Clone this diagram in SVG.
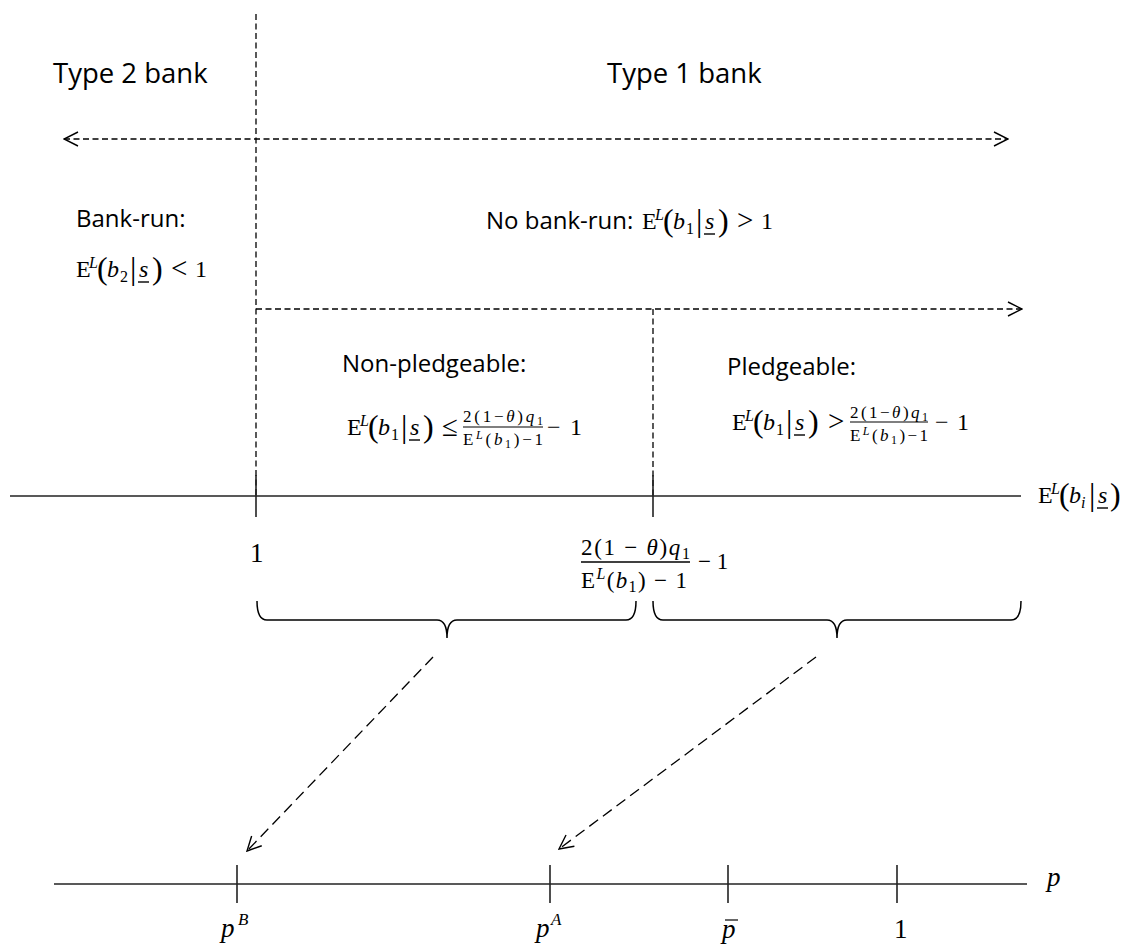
<svg xmlns="http://www.w3.org/2000/svg" width="1127" height="945" viewBox="0 0 1127 945">
<defs>
<style>
.t{font-family:"Open Sans","Liberation Sans",sans-serif;font-size:24px;fill:#000}
.tt{font-family:"Open Sans","Liberation Sans",sans-serif;font-size:27.5px;fill:#000}
.m{font-family:"Liberation Serif","DejaVu Serif",serif;font-size:24px;fill:#000}
.i{font-style:italic}
.s{font-size:16px}
.big{font-size:32px}
.rel{font-size:29px}
.fr{font-size:17px}
.dash{fill:none;stroke:#000;stroke-width:1.3;stroke-dasharray:6 3.5}
.diag{fill:none;stroke:#000;stroke-width:1.3;stroke-dasharray:11 6}
.axis{fill:none;stroke:#222;stroke-width:1.7}
.tick{fill:none;stroke:#222;stroke-width:1.6}
.brace{fill:none;stroke:#000;stroke-width:1.5}
.ul{stroke:#000;stroke-width:1.4}
.bar{stroke:#000;stroke-width:1.2}
</style>
<marker id="ah" viewBox="0 0 16 16" refX="15" refY="8" markerWidth="16" markerHeight="16" markerUnits="userSpaceOnUse" orient="auto-start-reverse">
<path d="M1,1 L15,8 L1,15" fill="none" stroke="#000" stroke-width="1.4"/>
</marker>
</defs>
<rect width="1127" height="945" fill="#fff"/>

<g id="connectors">
<line class="dash" x1="256" y1="14" x2="256" y2="496"/>
<line class="dash" x1="653" y1="309" x2="653" y2="496"/>
<line class="dash" x1="64" y1="139" x2="1008" y2="139" marker-start="url(#ah)" marker-end="url(#ah)"/>
<line class="dash" x1="256" y1="309" x2="1022" y2="309" marker-end="url(#ah)"/>
<line class="diag" x1="433" y1="657" x2="247" y2="851" marker-end="url(#ah)"/>
<line class="diag" x1="816" y1="657" x2="559" y2="849" marker-end="url(#ah)"/>
</g>

<g id="axis-top">
<line class="axis" x1="10" y1="496" x2="1021" y2="496"/>
<line class="tick" x1="256" y1="475" x2="256" y2="517"/>
<line class="tick" x1="653" y1="475" x2="653" y2="517"/>
<g transform="translate(1038,503)">
<text class="m" x="0" y="0">E</text>
<text class="m i s" x="13" y="-9">L</text>
<text class="m big" x="21" y="2">(</text>
<text class="m i" x="31" y="0">b</text>
<text class="m i s" x="43" y="5">i</text>
<text class="m big" x="51" y="2">|</text>
<text class="m i" x="60" y="0">s</text>
<line class="ul" x1="59" y1="5" x2="70" y2="5"/>
<text class="m big" x="72" y="2">)</text>
</g>
<text class="m" x="250" y="562" style="font-size:27px">1</text>
<g id="thr-label">
<text class="m" x="581" y="555" style="font-size:23px" textLength="109" lengthAdjust="spacing">2(1 − <tspan class="i">θ</tspan>)<tspan class="i">q</tspan><tspan style="font-size:16px" dy="4">1</tspan></text>
<line class="bar" x1="581" y1="562" x2="690" y2="562" style="stroke-width:1.7"/>
<text class="m" x="581" y="588" style="font-size:23px" textLength="106" lengthAdjust="spacing">E<tspan class="i" style="font-size:16px" dy="-9">L</tspan><tspan dy="9">(</tspan><tspan class="i">b</tspan><tspan style="font-size:16px" dy="4">1</tspan><tspan dy="-4">) − 1</tspan></text>
<text class="m" x="698" y="569" style="font-size:23px">− 1</text>
</g>
</g>

<g id="braces">
<path class="brace" d="M257,601 Q257,620 267,620 L437,620 Q447,620 447,638 Q447,620 457,620 L626,620 Q636,620 636,601"/>
<path class="brace" d="M653,601 Q653,620 663,620 L827,620 Q837,620 837,638 Q837,620 847,620 L1011,620 Q1021,620 1021,601"/>
</g>

<g id="axis-p">
<line class="axis" x1="54" y1="884" x2="1027" y2="884"/>
<line class="tick" x1="237" y1="865" x2="237" y2="903"/>
<line class="tick" x1="550" y1="865" x2="550" y2="903"/>
<line class="tick" x1="728" y1="865" x2="728" y2="903"/>
<line class="tick" x1="897" y1="865" x2="897" y2="903"/>
<text class="m i" x="221" y="937" style="font-size:27px">p</text>
<text class="m i" x="238" y="925" style="font-size:17px">B</text>
<text class="m i" x="536" y="937" style="font-size:27px">p</text>
<text class="m i" x="551" y="925" style="font-size:17px">A</text>
<text class="m i" x="722" y="938" style="font-size:27px">p</text>
<line class="bar" x1="725" y1="920" x2="738" y2="920"/>
<text class="m" x="894" y="938" style="font-size:27px">1</text>
<text class="m i" x="1047" y="886" style="font-size:27px">p</text>
</g>

<g id="type2">
<text class="tt" x="53" y="83">Type 2 bank</text>
</g>
<g id="type1">
<text class="tt" x="607" y="83">Type 1 bank</text>
</g>

<g id="bank-run">
<text class="t" x="76" y="227">Bank-run:</text>
<g transform="translate(76,277)">
<text class="m" x="0" y="0">E</text>
<text class="m i s" x="13" y="-9">L</text>
<text class="m big" x="21" y="2">(</text>
<text class="m i" x="31" y="0">b</text>
<text class="m s" x="44" y="5">2</text>
<text class="m big" x="54" y="2">|</text>
<text class="m i" x="63" y="0">s</text>
<line class="ul" x1="62" y1="5" x2="73" y2="5"/>
<text class="m big" x="76" y="2">)</text>
<text class="m rel" x="95" y="1">&lt;</text>
<text class="m" x="119" y="0">1</text>
</g>
</g>

<g id="no-bank-run">
<text class="t" x="486" y="229">No bank-run:</text>
<g transform="translate(642,229)">
<text class="m" x="0" y="0">E</text>
<text class="m i s" x="13" y="-9">L</text>
<text class="m big" x="21" y="2">(</text>
<text class="m i" x="31" y="0">b</text>
<text class="m s" x="44" y="5">1</text>
<text class="m big" x="54" y="2">|</text>
<text class="m i" x="63" y="0">s</text>
<line class="ul" x1="62" y1="5" x2="73" y2="5"/>
<text class="m big" x="76" y="2">)</text>
<text class="m rel" x="95" y="1">&gt;</text>
<text class="m" x="119" y="0">1</text>
</g>
</g>

<g id="non-pledgeable">
<text class="t" x="342" y="372">Non-pledgeable:</text>
<g transform="translate(347,435)">
<text class="m" x="0" y="0">E</text>
<text class="m i s" x="13" y="-9">L</text>
<text class="m big" x="21" y="2">(</text>
<text class="m i" x="31" y="0">b</text>
<text class="m s" x="44" y="5">1</text>
<text class="m big" x="54" y="2">|</text>
<text class="m i" x="63" y="0">s</text>
<line class="ul" x1="62" y1="5" x2="73" y2="5"/>
<text class="m big" x="76" y="2">)</text>
<text class="m rel" x="95" y="1">≤</text>
<text class="m fr" x="116" y="-13" textLength="80" lengthAdjust="spacing">2(1−<tspan class="i">θ</tspan>)<tspan class="i">q</tspan><tspan style="font-size:12px" dy="3">1</tspan></text>
<line class="bar" x1="116" y1="-8" x2="196" y2="-8"/>
<text class="m fr" x="116" y="10" textLength="80" lengthAdjust="spacing">E<tspan class="i" style="font-size:12px" dy="-6">L</tspan><tspan dy="6">(</tspan><tspan class="i">b</tspan><tspan style="font-size:12px" dy="3">1</tspan><tspan dy="-3">)−1</tspan></text>
<text class="m" x="200" y="0">−</text>
<text class="m" x="223" y="0">1</text>
</g>
</g>

<g id="pledgeable">
<text class="t" x="727" y="375">Pledgeable:</text>
<g transform="translate(732,430)">
<text class="m" x="0" y="0">E</text>
<text class="m i s" x="13" y="-9">L</text>
<text class="m big" x="21" y="2">(</text>
<text class="m i" x="31" y="0">b</text>
<text class="m s" x="44" y="5">1</text>
<text class="m big" x="54" y="2">|</text>
<text class="m i" x="63" y="0">s</text>
<line class="ul" x1="62" y1="5" x2="73" y2="5"/>
<text class="m big" x="76" y="2">)</text>
<text class="m rel" x="96" y="1">&gt;</text>
<text class="m fr" x="118" y="-12" textLength="78" lengthAdjust="spacing">2(1−<tspan class="i">θ</tspan>)<tspan class="i">q</tspan><tspan style="font-size:12px" dy="3">1</tspan></text>
<line class="bar" x1="118" y1="-8" x2="196" y2="-8"/>
<text class="m fr" x="118" y="11" textLength="78" lengthAdjust="spacing">E<tspan class="i" style="font-size:12px" dy="-6">L</tspan><tspan dy="6">(</tspan><tspan class="i">b</tspan><tspan style="font-size:12px" dy="3">1</tspan><tspan dy="-3">)−1</tspan></text>
<text class="m" x="203" y="0">−</text>
<text class="m" x="225" y="0">1</text>
</g>
</g>
</svg>
